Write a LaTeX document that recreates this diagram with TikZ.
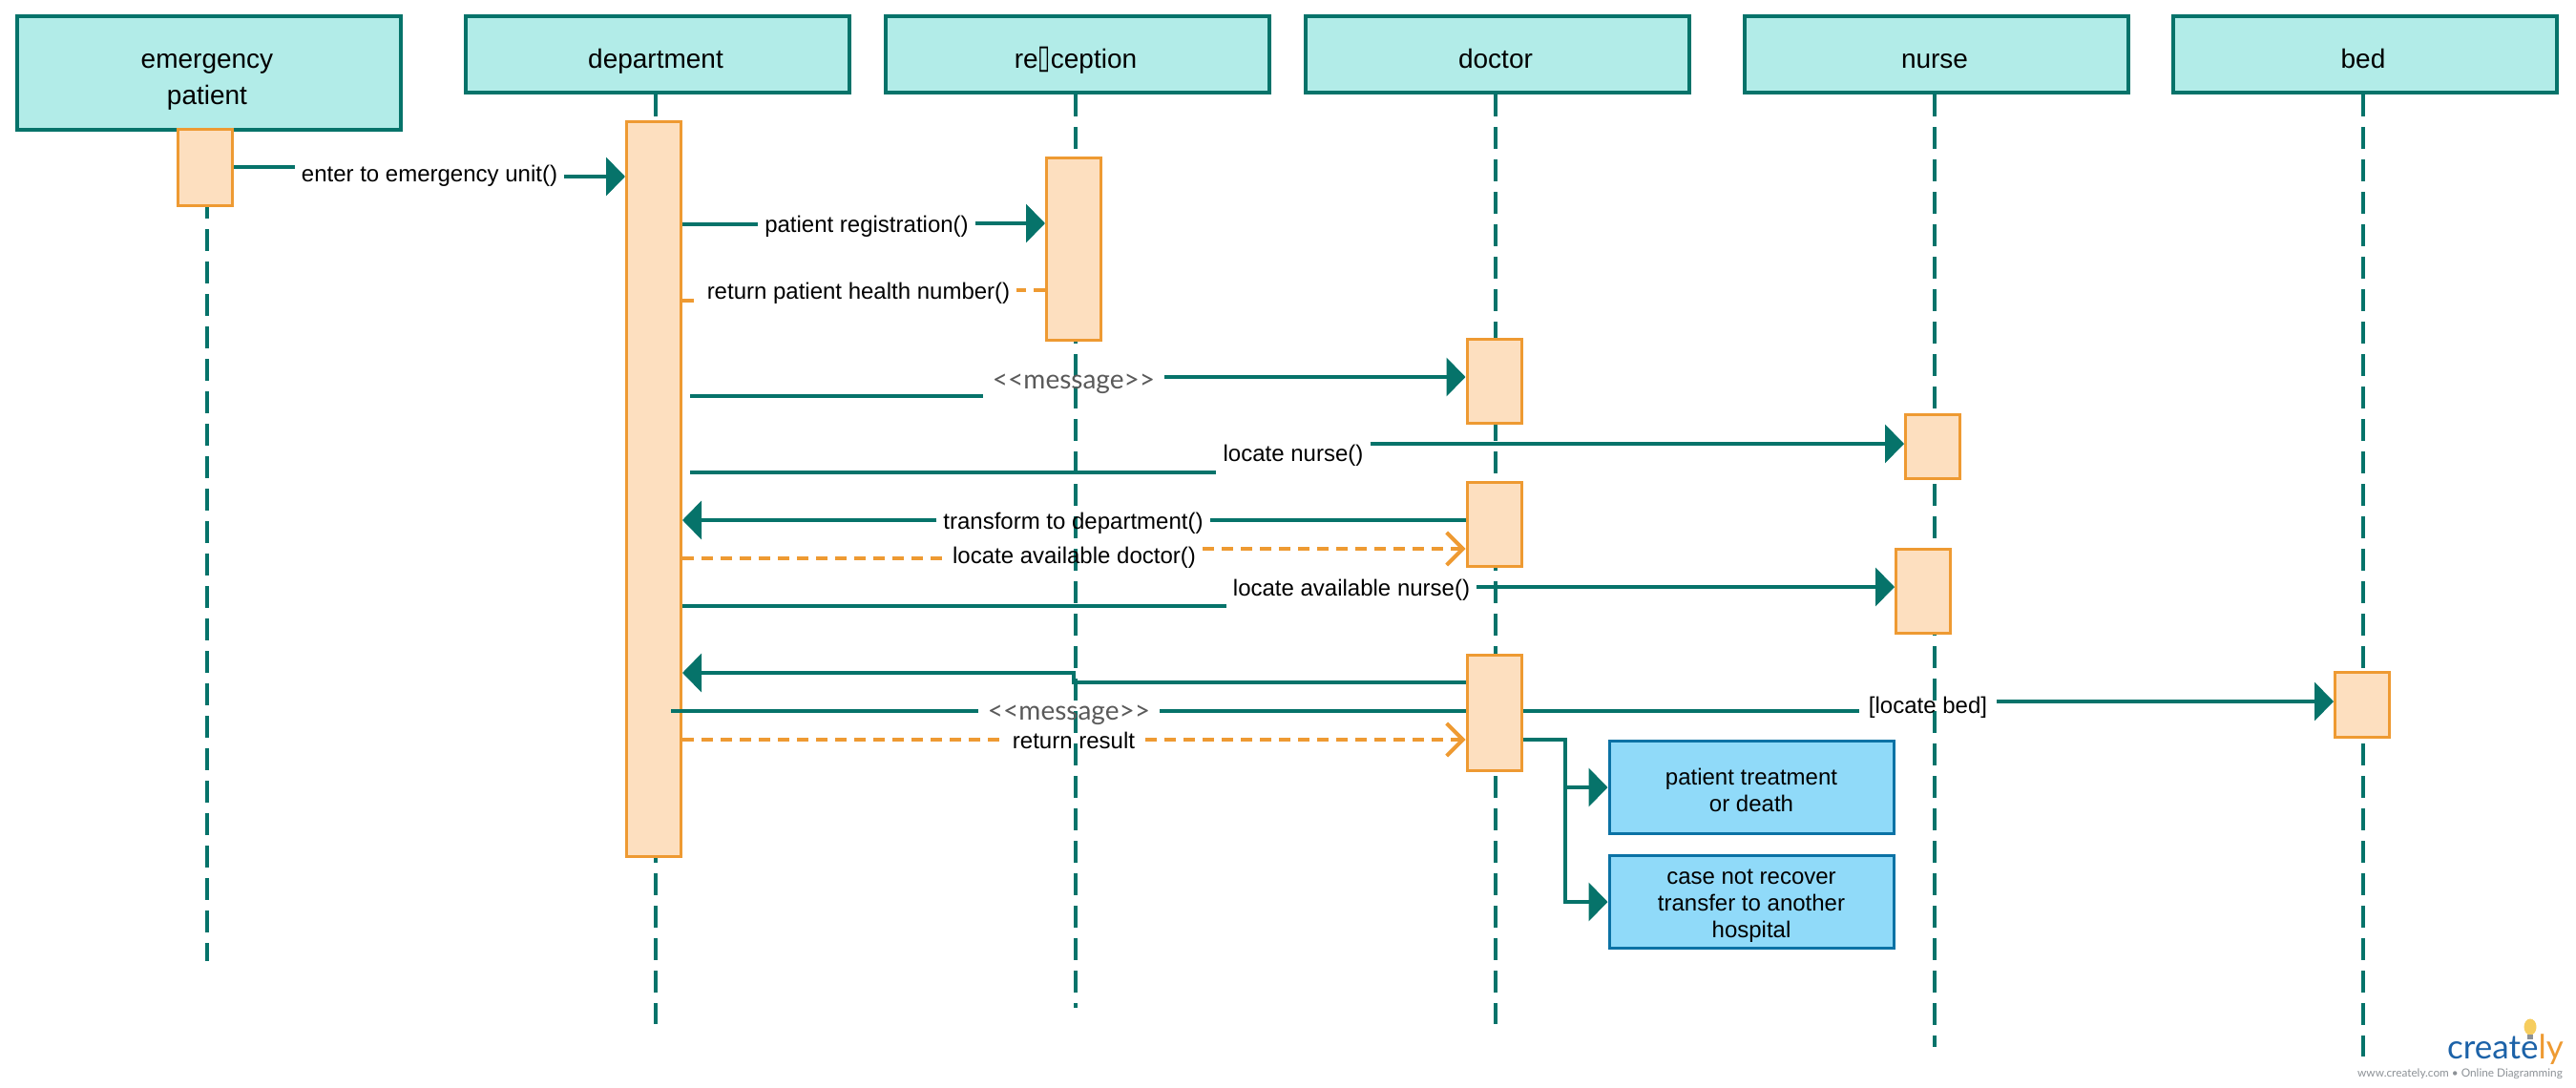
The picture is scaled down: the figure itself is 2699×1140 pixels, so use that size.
\documentclass[tikz,border=0pt]{standalone}
\usepackage{fontspec}
\usepackage{graphicx}
\setmainfont{Liberation Sans}
\newfontfamily\latofont{Lato}
\newfontfamily\dejavufont{DejaVu Sans}
\usetikzlibrary{arrows.meta}
\definecolor{teal1}{HTML}{06736A}
\definecolor{hdrfill}{HTML}{B2ECE8}
\definecolor{actfill}{HTML}{FDDFBF}
\definecolor{actline}{HTML}{EE9A32}
\definecolor{bluefill}{HTML}{90DAF9}
\definecolor{blueline}{HTML}{0B72A5}
\definecolor{msggray}{HTML}{5A5A5A}
\definecolor{logoblue}{HTML}{1C62A8}
\definecolor{logogray}{HTML}{8C9196}
\definecolor{bulb}{HTML}{F6CD5E}
\tikzset{
  x=1pt,y=-1pt,
  hdrbox/.style={draw=teal1,fill=hdrfill,line width=4pt,rectangle,minimum width=402pt,inner sep=0pt},
  hdrtext/.style={inner sep=0pt,align=center,font=\fontsize{28}{38}\selectfont,text=black},
  lifeline/.style={draw=teal1,line width=3.5pt,dash pattern=on 23pt off 11pt},
  act/.style={draw=actline,fill=actfill,line width=3pt,rectangle,inner sep=0pt,minimum width=57pt},
  msglabel/.style={inner ysep=0pt,inner xsep=7pt,font=\fontsize{24}{28}\selectfont,text=black,text height=18pt,text depth=5pt},
  stereo/.style={inner ysep=0pt,inner xsep=10pt,font=\latofont\fontsize{28}{32}\selectfont,text=msggray,text height=20pt,text depth=6pt},
  msgline/.style={draw=teal1,line width=4pt},
  solidtip/.style={-{Triangle[length=20pt,width=40pt]}},
  retline/.style={draw=actline,line width=4pt,dash pattern=on 12pt off 8pt},
  opentip/.style={-{Straight Barb[length=17pt,width=34pt,line width=4pt]}},
  outcome/.style={draw=blueline,fill=bluefill,line width=3pt,rectangle,minimum width=298pt,minimum height=97pt,inner sep=0pt,align=center,font=\fontsize{24}{28}\selectfont,text=black},
}
\begin{document}
\begin{tikzpicture}
\useasboundingbox (0,0) rectangle (2699,1140);
% header boxes
\node[hdrbox,minimum height=119pt] (hE) at (219,76.5) {};
\node[hdrbox,minimum height=80pt] (hD) at (689,57) {};
\node[hdrbox,minimum height=80pt] (hR) at (1129,57) {};
\node[hdrbox,minimum height=80pt] (hT) at (1569,57) {};
\node[hdrbox,minimum height=80pt] (hN) at (2028.5,57) {};
\node[hdrbox,minimum height=80pt] (hB) at (2478,57) {};
\node[hdrtext] (tE) at (217,86) {emergency\\patient};
\node[hdrtext,anchor=base] (tD) at (687,71) {department};
\node[hdrtext,anchor=base] (tR) at (1127,71) {re{\dejavufont\fontsize{24}{28}\selectfont\scalebox{1}[1.45]{▯}}ception};
\node[hdrtext,anchor=base] (tT) at (1567,71) {doctor};
\node[hdrtext,anchor=base] (tN) at (2027,71) {nurse};
\node[hdrtext,anchor=base] (tB) at (2476,71) {bed};
% lifeline ends
\coordinate (eE) at (217,1007);
\coordinate (eD) at (687,1073);
\coordinate (eR) at (1127,1056);
\coordinate (eT) at (1567,1073);
\coordinate (eN) at (2027,1097);
\coordinate (eB) at (2476,1107);
\draw[lifeline] (hE.south -| eE) -- (eE);
\draw[lifeline] (hD.south -| eD) -- (eD);
\draw[lifeline] (hR.south -| eR) -- (eR);
\draw[lifeline] (hT.south -| eT) -- (eT);
\draw[lifeline] (hN.south -| eN) -- (eN);
\draw[lifeline] (hB.south -| eB) -- (eB);
% activations
\node[act,minimum height=80pt] (aE) at (215,175) {};
\node[act,minimum height=770pt] (aD) at (685,512) {};
\node[act,minimum height=191pt] (aR) at (1125,260.5) {};
\node[act,minimum height=88pt] (aT1) at (1565.5,399.5) {};
\node[act,minimum height=88pt] (aT2) at (1565.5,549) {};
\node[act,minimum height=121pt] (aT3) at (1565.5,746.5) {};
\node[act,minimum height=67pt] (aN1) at (2025,467.5) {};
\node[act,minimum height=88pt] (aN2) at (2015,619) {};
\node[act,minimum height=68pt] (aB) at (2475,738) {};
% outcome boxes
\node[outcome] (o1) at (1835,825) {\rule{0pt}{24pt}patient treatment\\or death};
\node[outcome] (o2) at (1835,945) {\rule{0pt}{24pt}case not recover\\transfer to another\\hospital};
% message labels
\node[msglabel] (m1) at (450,184) {enter to emergency unit()};
\node[msglabel] (m2) at (908,237) {patient registration()};
\node[msglabel] (m3) at (899.5,307) {return patient health number()};
\node[stereo] (m4) at (1125,400) {<{}<message>{}>};
\node[msglabel] (m5) at (1355,477) {locate nurse()};
\node[msglabel] (m6) at (1124.5,548) {transform to department()};
\node[msglabel] (m7) at (1125.5,584) {locate available doctor()};
\node[msglabel] (m8) at (1416,618) {locate available nurse()};
\node[stereo] (m9) at (1120,747) {<{}<message>{}>};
\node[msglabel,inner xsep=10pt] (m10) at (2020,741) {[locate bed]};
\node[msglabel,inner xsep=11pt] (m11) at (1125,778) {return result};
% free starts
\coordinate (s4) at (723,415);
\coordinate (s5) at (723,495);
\coordinate (s9) at (703,745);
% connectors
\draw[msgline] (aE.east |- 0,175) -- (m1.west |- 0,175);
\draw[msgline,solidtip] (m1.east |- 0,185) -- (aD.west |- 0,185);
\draw[msgline] (aD.east |- 0,235) -- (m2.west |- 0,235);
\draw[msgline,solidtip] (m2.east |- 0,234) -- (aR.west |- 0,234);
\draw[retline] (aD.east |- 0,315) -- (m3.west |- 0,315);
\draw[retline] (aR.west |- 0,304) -- (m3.east |- 0,304);
\draw[msgline] (s4) -- (m4.west |- s4);
\draw[msgline,solidtip] (m4.east |- 0,395) -- (aT1.west |- 0,395);
\draw[msgline] (s5) -- (m5.west |- s5);
\draw[msgline,solidtip] (m5.east |- 0,465) -- (aN1.west |- 0,465);
\draw[msgline] (aT2.west |- 0,545) -- (m6.east |- 0,545);
\draw[msgline,solidtip] (m6.west |- 0,545) -- (aD.east |- 0,545);
\draw[retline] (aD.east |- 0,585) -- (m7.west |- 0,585);
\draw[retline,opentip] (m7.east |- 0,575) -- (aT2.west |- 0,575);
\draw[msgline] (aD.east |- 0,635) -- (m8.west |- 0,635);
\draw[msgline,solidtip] (m8.east |- 0,615) -- (aN2.west |- 0,615);
\draw[msgline,solidtip] (aT3.west |- 0,715) -- (1125,715) -- (1125,705) -- (aD.east |- 0,705);
\draw[msgline] (s9) -- (m9.west |- s9);
\draw[msgline] (m9.east |- s9) -- (aT3.west |- s9);
\draw[msgline] (aT3.east |- s9) -- (m10.west |- s9);
\draw[msgline,solidtip] (m10.east |- 0,735) -- (aB.west |- 0,735);
\draw[retline] (aD.east |- 0,775) -- (m11.west |- 0,775);
\draw[retline,opentip] (m11.east |- 0,775) -- (aT3.west |- 0,775);
\coordinate (j1) at (1640,775);
\draw[msgline,solidtip] (aT3.east |- j1) -- (j1) |- (o1.west);
\draw[msgline,solidtip] (j1) |- (o2.west);
% logo
\fill[bulb] (2651,1076) ellipse (6.5pt and 8.5pt);
\fill[logogray] (2648,1084) rectangle (2654,1089);
\node[inner sep=0pt,anchor=base east,font=\latofont\fontsize{35}{35}\selectfont] (logo) at (2686,1109) {\textcolor{logoblue}{create}\textcolor{actline}{ly}};
\node[inner sep=0pt,anchor=base east,font=\latofont\fontsize{11.8}{14}\selectfont,text=logogray] (logotag) at (2685,1128) {www.creately.com • Online Diagramming};
\end{tikzpicture}
\end{document}
